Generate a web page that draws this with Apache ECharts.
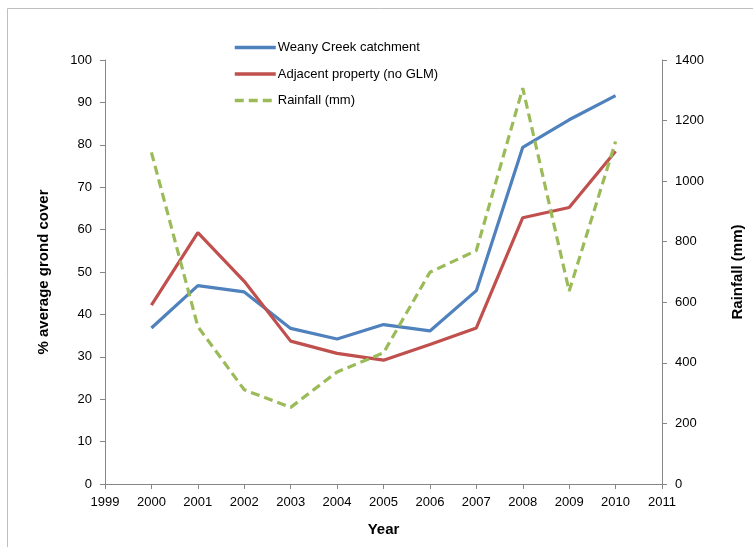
<!DOCTYPE html>
<html>
<head>
<meta charset="utf-8">
<script src="https://cdn.jsdelivr.net/npm/echarts@6/dist/echarts.min.js"></script>
<style>
  html, body { margin: 0; padding: 0; background: #fff; }
  #chart { width: 753px; height: 547px; }
</style>
</head>
<body>
<div id="chart"></div>
<script>
// Ground cover and rainfall, 2000-2010
const years = [2000, 2001, 2002, 2003, 2004, 2005, 2006, 2007, 2008, 2009, 2010];
const weanyCreek = [36.8, 46.8, 45.3, 36.7, 34.2, 37.6, 36.1, 45.6, 79.4, 85.9, 91.6];
const adjacentProperty = [42.2, 59.3, 47.8, 33.7, 30.8, 29.2, 32.9, 36.8, 62.8, 65.2, 78.5];
const rainfall = [1095, 520, 311, 253, 370, 433, 699, 771, 1307, 637, 1131];

const seriesNames = ['Weany Creek catchment', 'Adjacent property (no GLM)', 'Rainfall (mm)'];
const font = '"Liberation Sans", Arial, sans-serif';

const pairs = vals => years.map((y, i) => [y, vals[i]]);

const axisLine = { show: true, lineStyle: { color: '#868686', width: 1 } };
const axisTick = { show: true, length: 5, lineStyle: { color: '#868686' } };
const labelStyle = { color: '#000', fontSize: 13, fontFamily: font };
const titleStyle = { color: '#000', fontSize: 15, fontWeight: 'bold', fontFamily: font };

const chart = echarts.init(document.getElementById('chart'), null, { renderer: 'canvas' });
chart.setOption({
  animation: false,
  backgroundColor: '#fff',
  graphic: [{
    type: 'rect',
    shape: { x: 7.5, y: 8.5, width: 900, height: 700 },
    style: { fill: 'none', stroke: '#bfbfbf', lineWidth: 1 },
    silent: true, z: -1
  }],
  grid: { left: 105, right: 84, top: 60, bottom: 63, containLabel: false },
  legend: {
    orient: 'vertical',
    left: 228,
    top: 36,
    itemWidth: 41,
    itemHeight: 14,
    itemGap: 13.5,
    data: seriesNames,
    itemStyle: { opacity: 0 },
    lineStyle: { width: 3.5 },
    textStyle: { color: '#000', fontSize: 13, fontFamily: font, padding: [0, 0, 0, -3] }
  },
  xAxis: {
    type: 'value',
    min: 1999, max: 2011, interval: 1,
    name: 'Year', nameLocation: 'middle', nameGap: 38,
    nameTextStyle: titleStyle,
    axisLine: axisLine,
    axisTick: axisTick,
    axisLabel: Object.assign({ margin: 12, formatter: v => String(v) }, labelStyle),
    splitLine: { show: false }
  },
  yAxis: [{
    type: 'value',
    min: 0, max: 100, interval: 10,
    name: '% average grond cover', nameLocation: 'middle', nameGap: 54,
    nameTextStyle: titleStyle,
    axisLine: axisLine,
    axisTick: axisTick,
    axisLabel: Object.assign({ margin: 13 }, labelStyle),
    splitLine: { show: false }
  }, {
    type: 'value',
    position: 'right',
    min: 0, max: 1400, interval: 200,
    name: 'Rainfall (mm)', nameLocation: 'middle', nameGap: 68, nameRotate: 90,
    nameTextStyle: titleStyle,
    axisLine: axisLine,
    axisTick: axisTick,
    axisLabel: Object.assign({ margin: 13, formatter: v => String(v) }, labelStyle),
    splitLine: { show: false }
  }],
  series: [{
    name: seriesNames[0],
    type: 'line',
    data: pairs(weanyCreek),
    symbol: 'none',
    color: '#4F81BD',
    lineStyle: { color: '#4F81BD', width: 3.2 }
  }, {
    name: seriesNames[1],
    type: 'line',
    data: pairs(adjacentProperty),
    symbol: 'none',
    color: '#C0504D',
    lineStyle: { color: '#C0504D', width: 3.2 }
  }, {
    name: seriesNames[2],
    type: 'line',
    yAxisIndex: 1,
    data: pairs(rainfall),
    symbol: 'none',
    color: '#9BBB59',
    lineStyle: { color: '#9BBB59', width: 3.2, type: [9, 5] }
  }]
});
</script>
</body>
</html>
